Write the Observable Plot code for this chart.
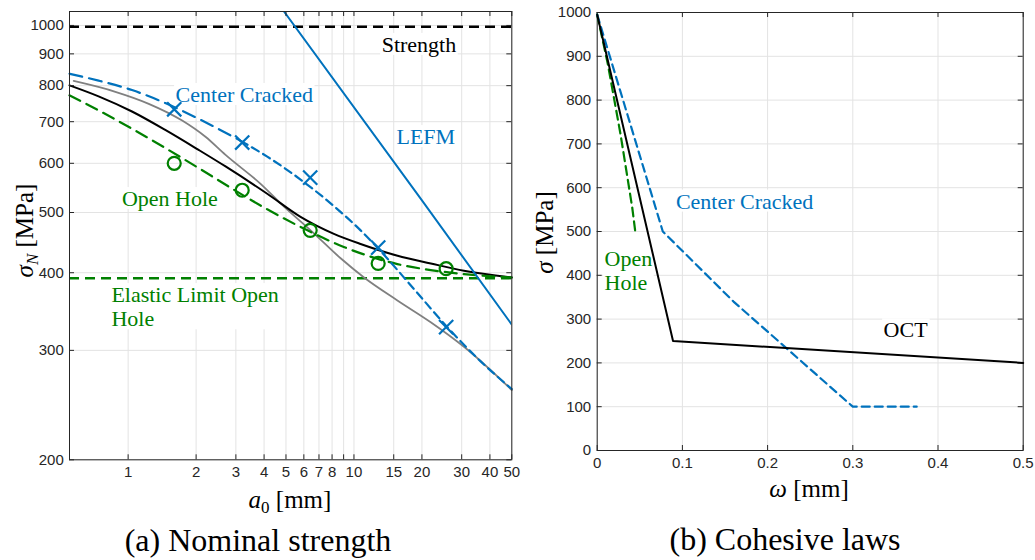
<!DOCTYPE html>
<html>
<head>
<meta charset="utf-8">
<script src="https://cdn.jsdelivr.net/npm/d3@7"></script>
<script src="https://cdn.jsdelivr.net/npm/@observablehq/plot@0.6"></script>
<style>
  html, body { margin: 0; padding: 0; background: #fff; }
  #chart { position: relative; width: 1035px; height: 560px; overflow: hidden; background: #fff; }
  #chart > svg { position: absolute; }
  #overlay { left: 0; top: 0; pointer-events: none; }
  #overlay text { font-family: "Liberation Serif", "DejaVu Serif", serif; fill: #000; }
</style>
</head>
<body>
<div id="chart">
  <svg id="overlay" width="1035" height="560" viewBox="0 0 1035 560"></svg>
</div>
<script>
// ================= DATA =================
// ---- Panel (a): nominal strength sigma_N [MPa] vs a0 [mm] (log-log) ----
const xTicksA = [1, 2, 3, 4, 5, 6, 7, 8, 10, 15, 20, 30, 40, 50];
const xGridA  = [1, 2, 3, 4, 5, 6, 7, 8, 9, 10, 15, 20, 30, 40, 50];
const yTicksA = [200, 300, 400, 500, 600, 700, 800, 900, 1000];

const strengthA = [995];
const elasticLimitA = [392];

const lefmA0    = [4.9, 20, 50];
const lefmSigma = [1053, 523, 330];

const ccModelA0    = [0.55, 0.74, 1.04, 1.46, 2.06, 2.7, 3.15, 4.13, 5.8, 8.15, 10.7, 12.7, 18.5, 25.5, 36.4, 50];
const ccModelSigma = [836, 815, 787, 750, 707, 672, 652, 615, 565, 512, 468, 439, 376, 329, 288, 260];

const octModelA0    = [0.55, 0.74, 1.04, 1.46, 2.06, 2.7, 4.13, 5.8, 8.15, 10.7, 15.6, 21.9, 30.7, 50];
const octModelSigma = [801, 769, 727, 679, 630, 593, 536, 492, 462, 445, 426, 414, 403, 393];

const grayModelA0    = [0.574, 0.878, 1.234, 1.735, 2.2, 2.7, 3.86, 4.9, 6.43, 8.73, 11.08, 15.57, 21.88, 30.7, 50];
const grayModelSigma = [814, 782, 748, 703, 662, 619, 556, 511, 468, 422, 393, 361, 333, 304, 259];

const ohModelA0    = [0.55, 0.74, 1.04, 1.46, 2.06, 2.94, 4.13, 6.22, 9.02, 11.08, 15.57, 21.88, 30.7, 50];
const ohModelSigma = [772, 730, 682, 635, 589, 544, 506, 468, 440, 428, 413, 404, 398, 393];

const testA0      = [1.6, 3.2, 6.4, 12.8, 25.6];
const ccTestSigma = [733, 648, 569, 439, 327];
const ohTestSigma = [600, 543, 468, 414, 406];

const labelsA = [
  { text: "Strength", a0: 19.4, sigma: 933, series: "strength" },
  { text: "Center Cracked", a0: 3.27, sigma: 775, series: "cc" },
  { text: "LEFM", a0: 20.8, sigma: 663, series: "cc" },
  { text: "Open Hole", a0: 1.53, sigma: 527, series: "oh" },
  { text: "Elastic Limit Open\nHole", a0: 0.843, sigma: 353, series: "ohLeft" }
];

// ---- Panel (b): cohesive laws sigma [MPa] vs w [mm] ----
const xTicksB = [0, 0.1, 0.2, 0.3, 0.4, 0.5];
const yTicksB = [0, 100, 200, 300, 400, 500, 600, 700, 800, 900, 1000];

const octW = [0, 0.089, 0.5];
const octS = [995, 250, 200];
const ccW  = [0, 0.077, 0.16, 0.3, 0.375];
const ccS  = [995, 500, 340, 100, 100];
const ohW  = [0, 0.0124, 0.0273, 0.0411, 0.045];
const ohS  = [995, 883, 723, 555, 495];

const labelsB = [
  { text: "Center Cracked", w: 0.173, sigma: 570, series: "cc" },
  { text: "Open\nHole", w: 0.0086, sigma: 411, series: "ohLeft" },
  { text: "OCT", w: 0.362, sigma: 276, series: "strength" }
];

// ================= STYLE =================
const BLUE = "#0072BD", GREEN = "#008000", GRAY = "#808080", AXIS = "#262626", GRID = "#e3e3e3";
const seriesColor = { strength: "#000", cc: BLUE, oh: GREEN, ohLeft: GREEN };
const seriesAnchor = { strength: "middle", cc: "middle", oh: "middle", ohLeft: "start" };
const zip = (xs, ys) => xs.map((x, i) => [x, ys[i]]);
const SERIF = "Liberation Serif, DejaVu Serif, serif";

function annotations(labels, xKey) {
  return labels.map(l => Plot.text([l], {
    x: xKey, y: "sigma", text: "text",
    fill: seriesColor[l.series], textAnchor: seriesAnchor[l.series],
    fontFamily: SERIF, fontSize: 22, lineHeight: 1.1
  }));
}

function frameTicks(xs, ys, innerW, innerH) {
  return [
    Plot.ruleX(xs, { insetTop: innerH - 5, stroke: AXIS }),
    Plot.ruleX(xs, { insetBottom: innerH - 5, stroke: AXIS }),
    Plot.ruleY(ys, { insetRight: innerW - 5, stroke: AXIS }),
    Plot.ruleY(ys, { insetLeft: innerW - 5, stroke: AXIS })
  ];
}

const baseStyle = { fontFamily: "Liberation Sans, Arial, sans-serif", fontSize: "15px", color: AXIS, background: "transparent", overflow: "visible" };
const xy = { x: d => d[0], y: d => d[1] };

// ================= PANEL A =================
const A = { w: 520, h: 490, l: 69, r: 8.7, t: 11, b: 30.7 };
const innerWA = A.w - A.l - A.r, innerHA = A.h - A.t - A.b;
const ccData = zip(ccModelA0, ccModelSigma);

const plotA = Plot.plot({
  width: A.w, height: A.h, marginLeft: A.l, marginRight: A.r, marginTop: A.t, marginBottom: A.b,
  x: { type: "log", domain: [0.55, 50], label: null, axis: null },
  y: { type: "log", domain: [200, 1053], label: null, axis: null },
  style: baseStyle,
  marks: [
    Plot.gridX(xGridA, { stroke: GRID, strokeOpacity: 1 }),
    Plot.gridY(yTicksA, { stroke: GRID, strokeOpacity: 1 }),
    Plot.ruleY(strengthA, { stroke: "#000", strokeWidth: 2.5, strokeDasharray: "10,6" }),
    Plot.ruleY(elasticLimitA, { stroke: GREEN, strokeWidth: 2.5, strokeDasharray: "10,6" }),
    Plot.line(zip(grayModelA0, grayModelSigma), { ...xy, stroke: GRAY, strokeWidth: 1.8, curve: "monotone-x" }),
    Plot.line(zip(octModelA0, octModelSigma), { ...xy, stroke: "#000", strokeWidth: 2, curve: "monotone-x" }),
    Plot.line(zip(ohModelA0, ohModelSigma), { ...xy, stroke: GREEN, strokeWidth: 2.2, strokeDasharray: "12,7", curve: "monotone-x" }),
    Plot.line(ccData.filter(d => d[0] <= 3.15), { ...xy, stroke: BLUE, strokeWidth: 2.2, strokeDasharray: "13,7", curve: "monotone-x" }),
    Plot.line(ccData.filter(d => d[0] >= 3.15), { ...xy, stroke: BLUE, strokeWidth: 2.2, strokeDasharray: "8,5", curve: "monotone-x" }),
    Plot.line(zip(lefmA0, lefmSigma), { ...xy, stroke: BLUE, strokeWidth: 2, clip: true }),
    Plot.frame({ stroke: AXIS, strokeWidth: 1 }),
    ...frameTicks(xGridA, yTicksA, innerWA, innerHA),
    Plot.text(xTicksA, { x: d => d, frameAnchor: "bottom", dy: 17, text: d => String(d), fill: AXIS, fontSize: 15 }),
    Plot.text(yTicksA, { y: d => d, frameAnchor: "left", dx: -5.7, textAnchor: "end", text: d => String(d), fill: AXIS, fontSize: 15 }),
    ...annotations(labelsA, "a0"),
    Plot.dot(zip(testA0, ccTestSigma), { ...xy, symbol: "times", r: 6.5, stroke: BLUE, strokeWidth: 2.2 }),
    Plot.dot(zip(testA0, ohTestSigma), { ...xy, symbol: "circle", r: 6.5, stroke: GREEN, strokeWidth: 2.2, fill: "none" })
  ]
});

// ================= PANEL B =================
const B = { w: 515, h: 490, l: 76.7, r: 12.3, t: 12, b: 40 };
const innerWB = B.w - B.l - B.r, innerHB = B.h - B.t - B.b;

const plotB = Plot.plot({
  width: B.w, height: B.h, marginLeft: B.l, marginRight: B.r, marginTop: B.t, marginBottom: B.b,
  x: { domain: [0, 0.5], label: null, axis: null },
  y: { domain: [0, 1000], label: null, axis: null },
  style: baseStyle,
  marks: [
    Plot.gridX(xTicksB, { stroke: GRID, strokeOpacity: 1 }),
    Plot.gridY(yTicksB, { stroke: GRID, strokeOpacity: 1 }),
    Plot.frame({ stroke: AXIS, strokeWidth: 1 }),
    ...frameTicks(xTicksB, yTicksB, innerWB, innerHB),
    Plot.text(xTicksB, { x: d => d, frameAnchor: "bottom", dy: 17, text: d => String(d), fill: AXIS, fontSize: 15 }),
    Plot.text(yTicksB, { y: d => d, frameAnchor: "left", dx: -6, textAnchor: "end", text: d => String(d), fill: AXIS, fontSize: 15 }),
    ...annotations(labelsB, "w"),
    Plot.line(zip(ohW, ohS), { ...xy, stroke: GREEN, strokeWidth: 2.2, strokeDasharray: "9,5" }),
    Plot.line(zip(ccW, ccS), { ...xy, stroke: BLUE, strokeWidth: 2.2, strokeDasharray: "8,5" }),
    Plot.line(zip(octW, octS), { ...xy, stroke: "#000", strokeWidth: 2 })
  ]
});

const chart = document.getElementById("chart");
const overlay = document.getElementById("overlay");
plotA.style.left = "0px"; plotA.style.top = "0px";
plotB.style.left = "520px"; plotB.style.top = "0px";
chart.insertBefore(plotA, overlay);
chart.insertBefore(plotB, overlay);

// white background boxes behind the serif annotation texts (like MATLAB text BackgroundColor)
const NS = "http://www.w3.org/2000/svg";
for (const svg of [plotA, plotB]) {
  svg.querySelectorAll('g[aria-label="text"]').forEach(g => {
    if (!(g.getAttribute("font-family") || "").includes("Serif")) return;
    g.querySelectorAll("text").forEach(t => {
      const bb = t.getBBox();
      const r = document.createElementNS(NS, "rect");
      r.setAttribute("x", bb.x - 1.5);
      r.setAttribute("y", bb.y + 1);
      r.setAttribute("width", bb.width + 3);
      r.setAttribute("height", bb.height - 3);
      r.setAttribute("fill", "#fff");
      if (t.getAttribute("transform")) r.setAttribute("transform", t.getAttribute("transform"));
      g.insertBefore(r, t);
    });
  });
}

// axis titles and captions
overlay.innerHTML = `
  <text x="290" y="508" text-anchor="middle" font-size="25"><tspan font-style="italic">a</tspan><tspan font-size="17" dy="5">0</tspan><tspan dy="-5"> [mm]</tspan></text>
  <text x="809" y="497" text-anchor="middle" font-size="25"><tspan font-style="italic">ω</tspan> [mm]</text>
  <text transform="translate(33,230.5) rotate(-90)" text-anchor="middle" font-size="25"><tspan font-style="italic">σ</tspan><tspan font-style="italic" font-size="17" dy="5">N</tspan><tspan dy="-5"> [MPa]</tspan></text>
  <text transform="translate(553,232.5) rotate(-90)" text-anchor="middle" font-size="25"><tspan font-style="italic">σ</tspan> [MPa]</text>
  <text x="258" y="551" text-anchor="middle" font-size="32">(a) Nominal strength</text>
  <text x="785" y="550" text-anchor="middle" font-size="32">(b) Cohesive laws</text>
`;
</script>
</body>
</html>
